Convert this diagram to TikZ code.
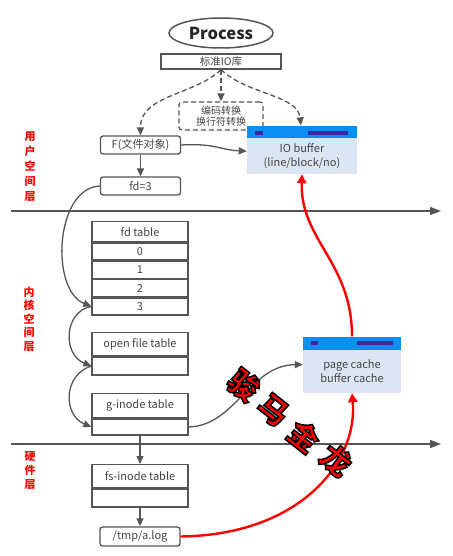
\documentclass[tikz,border=0pt]{standalone}
\usepackage{fontspec}
\setmainfont{Noto Sans CJK SC}
\usetikzlibrary{arrows.meta,shapes.geometric}
\definecolor{lc}{HTML}{555555}
\definecolor{tc}{HTML}{444444}
\definecolor{bufbg}{HTML}{DCE5F4}
\definecolor{bufbar}{HTML}{0A8EF0}
\definecolor{bufdark}{HTML}{3A2A9E}
\newcommand{\wmchar}[1]{\color{red}\special{pdf:code 0 0 0 RG 2 Tr 1.5 w}#1\special{pdf:code 0 Tr}}
\begin{document}
\begin{tikzpicture}[x=1pt,y=-1pt,
  box/.style={draw=lc, line width=1.3pt, fill=white, text=tc, inner sep=0pt,
    minimum width=96pt, font=\fontsize{11}{13}\selectfont},
  rbox/.style={box, rounded corners=2.5pt, minimum width=80pt},
  arr/.style={draw=lc, line width=1.3pt, -{Triangle[length=8pt,width=7pt]}},
  darr/.style={arr, dashed, dash pattern=on 5pt off 3pt},
  redarr/.style={draw=red, line width=2.4pt, -{Triangle[length=9pt,width=9pt]}},
  axis/.style={draw=lc, line width=1.4pt, -{Triangle[length=11pt,width=8pt]}},
  layer/.style={text=red, font=\bfseries\fontsize{11}{15}\selectfont, align=center},
  buf/.style={fill=bufbg, text=tc, inner sep=0pt, align=center, font=\fontsize{11}{14}\selectfont},
  bar/.style={fill=bufbar, inner sep=0pt},
  wm/.style={rotate=-38, inner sep=0pt, font=\bfseries\fontsize{30}{30}\selectfont}
]
\useasboundingbox (0,0) rectangle (452,556);

% top
\node[ellipse, draw=lc, line width=1.5pt, minimum width=104pt, minimum height=30pt,
  text=black!85, font=\bfseries\fontsize{16.5}{18}\selectfont, inner sep=0pt] (proc) at (221,33) {Process};
\node[box, minimum width=120pt, minimum height=15pt, font=\fontsize{10.5}{11}\selectfont] (lib) at (221,61.5) {标准IO库};
\node[draw=lc, dashed, dash pattern=on 5pt off 3pt, line width=1.3pt, rounded corners=3pt,
  minimum width=84pt, minimum height=28pt, inner sep=0pt, text=tc, align=center,
  font=\fontsize{10}{11.5}\selectfont] (conv) at (221,116) {编码转换\\换行符转换};

\node[rbox, minimum height=18pt] (F) at (140.5,145) {F(文件对象)};
\node[rbox, minimum height=18pt] (fd3) at (140.5,186) {fd=3};

% IO buffer
\node[buf, minimum width=110pt, minimum height=36pt] (iob) at (302,156) {IO buffer\\(line/block/no)};
\node[bar, minimum width=110pt, minimum height=12pt, anchor=south] (iobbar) at (iob.north) {};
\fill[bufdark] (255,131) rectangle (263,135);
\fill[bufdark] (308,131) rectangle (348,135);

% page cache
\node[buf, minimum width=98pt, minimum height=43pt] (pc) at (352,371.5) {page cache\\buffer cache};
\node[bar, minimum width=98pt, minimum height=13pt, anchor=south] (pcbar) at (pc.north) {};
\fill[bufdark] (311,341) rectangle (318,345);
\fill[bufdark] (357,341) rectangle (393,345);

% axes
\coordinate (a1s) at (11,211); \coordinate (a1e) at (441,211);
\coordinate (a2s) at (11,444); \coordinate (a2e) at (441,444);
\draw[axis] (a1s) -- (a1e);
\draw[axis] (a2s) -- (a2e);

% layer labels
\node[layer] (l1) at (30,167) {用\\户\\空\\间\\层};
\node[layer, font=\bfseries\fontsize{11}{13.5}\selectfont] (l2) at (29,319) {内\\核\\空\\间\\层};
\node[layer, font=\bfseries\fontsize{11}{14}\selectfont] (l3) at (30,471) {硬\\件\\层};

% fd table
\node[box, minimum height=20pt, anchor=north] (fdh) at (140,221) {fd table};
\node[box, minimum height=17pt, anchor=north] (fd0) at (fdh.south) {0};
\node[box, minimum height=17pt, anchor=north] (fd1) at (fd0.south) {1};
\node[box, minimum height=17pt, anchor=north] (fd2) at (fd1.south) {2};
\node[box, minimum height=17pt, anchor=north] (fdr3) at (fd2.south) {3};

% open file table
\node[box, minimum height=23pt, anchor=north] (ofh) at (140,332) {open file table};
\node[box, minimum height=18pt, anchor=north] (ofr) at (ofh.south) {};

% g-inode table
\node[box, minimum height=24pt, anchor=north] (gih) at (140,393) {g-inode table};
\node[box, minimum height=16pt, anchor=north] (gir) at (gih.south) {};

% fs-inode table
\node[box, minimum height=23pt, anchor=north] (fsh) at (140,464) {fs-inode table};
\node[box, minimum height=18pt, anchor=north] (fsr) at (fsh.south) {};

\node[rbox, minimum height=19pt] (tmp) at (140,536.5) {/tmp/a.log};

% connectors
\draw[darr] (lib.south) .. controls (195,95) and (140,95) .. (F.north);
\draw[darr] (lib.south) -- (conv.north);
\draw[darr] (lib.south) .. controls (248,95) and (298,95) .. (iobbar.100);
\draw[arr] (F.east) .. controls (215,143) and (220,150) .. (iob.175);
\draw[arr] (F.south) -- (fd3.north);
\draw[arr] (fd3.west) .. controls (55,188) and (50,290) .. (fdr3.west);
\draw[arr] (fdr3.west) .. controls (63,312) and (63,355) .. (ofr.west);
\draw[arr] (ofr.west) .. controls (63,375) and (63,415) .. (gir.west);
\draw[arr] (gir.east) .. controls (235,426) and (250,365) .. (pc.172);
\draw[arr] (gir.south) -- (fsh.north);
\draw[arr] (fsr.south) -- (tmp.north);
\draw[redarr] (tmp.east) .. controls (300,535) and (358,462) .. (pc.south);
\draw[redarr] (pcbar.north) .. controls (352,262) and (300,240) .. (iob.south);

% watermark
\node[wm] (wm1) at (244,385) {\wmchar{骏}};
\node[wm] (wm2) at (273,410) {\wmchar{马}};
\node[wm] (wm3) at (304,436) {\wmchar{金}};
\node[wm] (wm4) at (336,460) {\wmchar{龙}};
\end{tikzpicture}
\end{document}
